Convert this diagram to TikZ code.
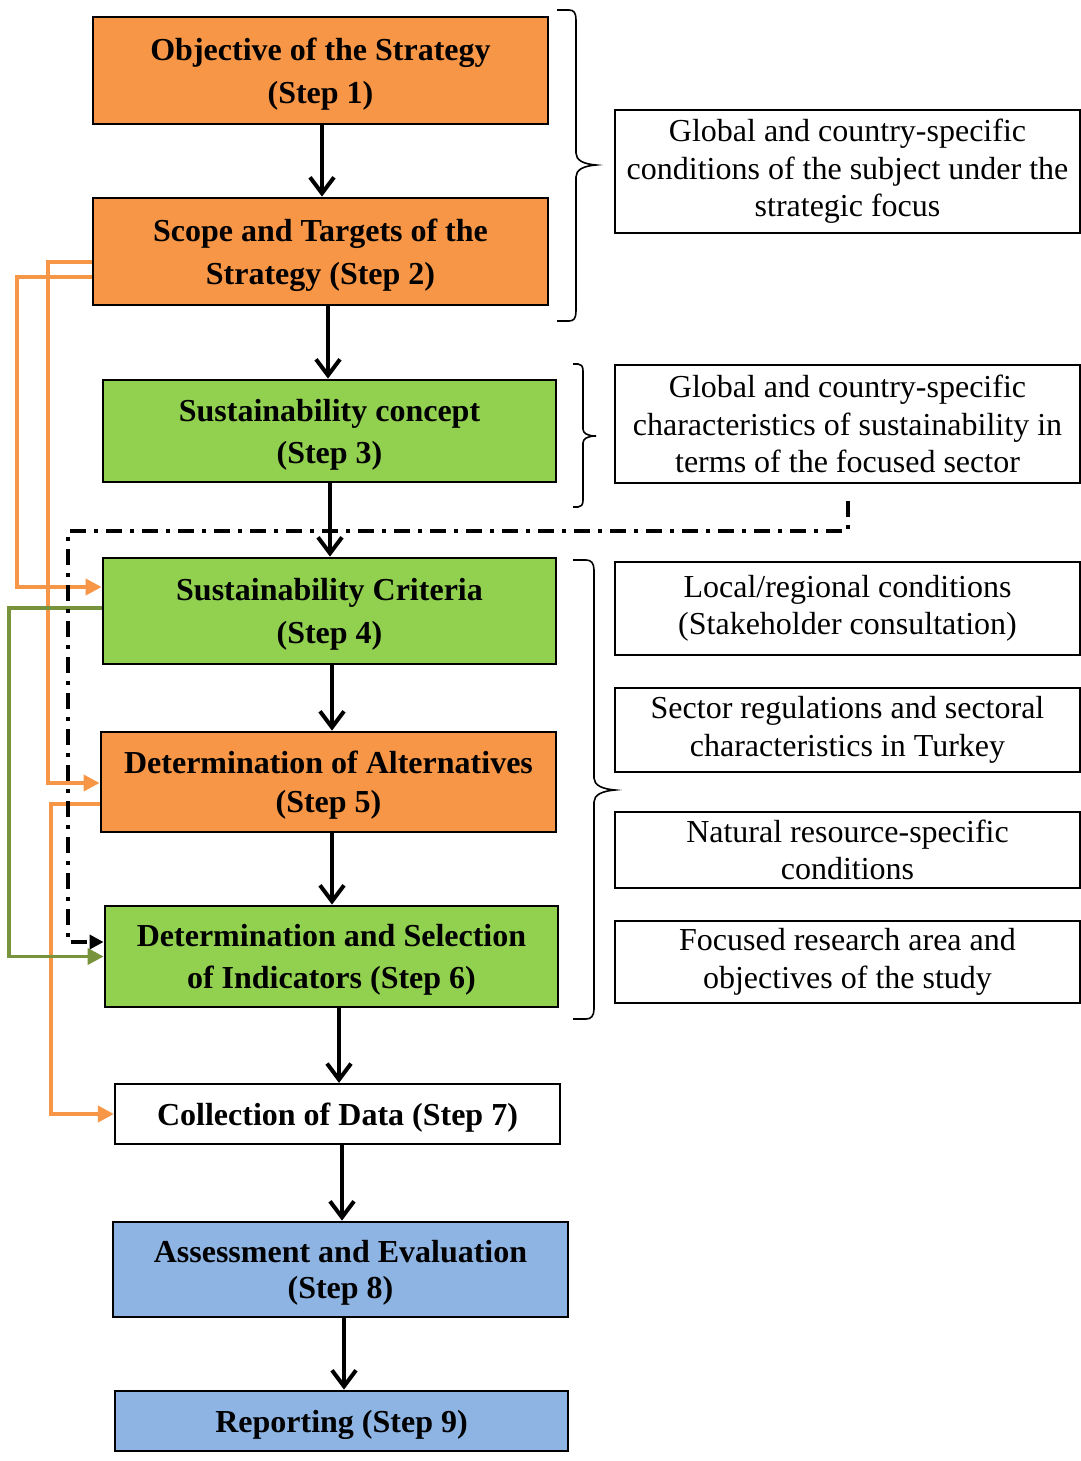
\documentclass[tikz,border=0pt]{standalone}
\usepackage{fontspec}
\setmainfont{Liberation Serif}
\usetikzlibrary{arrows.meta}
\definecolor{boxorange}{HTML}{F79646}
\definecolor{boxgreen}{HTML}{92D050}
\definecolor{boxblue}{HTML}{8EB4E3}
\definecolor{linkorange}{HTML}{F79646}
\definecolor{linkgreen}{HTML}{77933C}

\begin{document}
\begin{tikzpicture}[x=0.5pt,y=-0.5pt,
  stepbox/.style={draw=black, line width=1.4pt, align=center, inner sep=0pt, text depth=0pt,
    font=\fontsize{16}{21.5}\selectfont\bfseries},
  notebox/.style={draw=black, line width=0.9pt, align=center, inner sep=0pt,
    minimum width=232.5pt, font=\fontsize{16}{18.75}\selectfont},
  flow/.style={line width=2pt, -{Straight Barb[length=8pt,width=12pt]}},
  feed/.style={line width=1.9pt, -{Triangle[length=8pt,width=8pt]}},
  bracket/.style={line width=0.8pt},
  dashlink/.style={line width=2pt, dash pattern=on 8pt off 4pt on 2pt off 4pt,
    -{Triangle[length=7pt,width=7pt]}}
]
\useasboundingbox (0,0) rectangle (1081,1461);

% main sequence of steps
\node[stepbox, fill=boxorange, minimum width=227.5pt, minimum height=53.5pt] (s1) at (320.5,70.5)
  {Objective of the Strategy\\(Step 1)};
\node[stepbox, fill=boxorange, minimum width=227.5pt, minimum height=53.5pt] (s2) at (320.5,251.5)
  {Scope and Targets of the\\Strategy (Step 2)};
\node[stepbox, fill=boxgreen, minimum width=226.5pt, minimum height=51pt,
  font=\fontsize{16}{21}\selectfont\bfseries] (s3) at (329.5,431)
  {Sustainability concept\\(Step 3)};
\node[stepbox, fill=boxgreen, minimum width=226.5pt, minimum height=53pt] (s4) at (329.5,611)
  {Sustainability Criteria\\(Step 4)};
\node[stepbox, fill=boxorange, minimum width=227.5pt, minimum height=50pt,
  font=\fontsize{16}{19.5}\selectfont\bfseries] (s5) at (328.5,782)
  {Determination of Alternatives\\(Step 5)};
\node[stepbox, fill=boxgreen, minimum width=226.5pt, minimum height=50.5pt,
  font=\fontsize{16}{21}\selectfont\bfseries] (s6) at (331.5,956.5)
  {Determination and Selection\\of Indicators (Step 6)};
\node[stepbox, fill=white, line width=1.1pt, minimum width=222.5pt, minimum height=30pt] (s7) at (337.5,1114)
  {Collection of Data (Step 7)};
\node[stepbox, fill=boxblue, minimum width=227.5pt, minimum height=47.5pt,
  font=\fontsize{16}{18}\selectfont\bfseries] (s8) at (340.5,1269.5)
  {Assessment and Evaluation\\(Step 8)};
\node[stepbox, fill=boxblue, minimum width=226.5pt, minimum height=30pt] (s9) at (341.5,1421)
  {Reporting (Step 9)};

% explanatory notes on the right
\node[notebox, minimum height=61.5pt] (r1) at (847.5,171.5)
  {Global and country-specific\\conditions of the subject under the\\strategic focus};
\node[notebox, minimum height=59pt] (r2) at (847.5,424)
  {Global and country-specific\\characteristics of sustainability in\\terms of the focused sector};
\node[notebox, minimum height=46.5pt] (r3) at (847.5,608.5)
  {Local/regional conditions\\(Stakeholder consultation)};
\node[notebox, minimum height=42pt] (r4) at (847.5,730)
  {Sector regulations and sectoral\\characteristics in Turkey};
\node[notebox, minimum height=38pt] (r5) at (847.5,850)
  {Natural resource-specific\\conditions};
\node[notebox, minimum height=41pt] (r6) at (847.5,962)
  {Focused research area and\\objectives of the study};

% curly brackets grouping the steps
\draw[bracket] (557,10) -- (569,10) .. controls (574,10) and (576,13) .. (576,20)
  -- (576,153) .. controls (576,160) and (583,164) .. (596,165)
  .. controls (583,166) and (576,170) .. (576,177)
  -- (576,311) .. controls (576,318) and (574,321) .. (569,321) -- (557,321);
\draw[bracket] (573,364) -- (578,364) .. controls (581,364) and (583,366) .. (583,371)
  -- (583,429) .. controls (583,433) and (587,436) .. (596,436)
  .. controls (587,436) and (583,439) .. (583,443)
  -- (583,500) .. controls (583,505) and (581,507) .. (578,507) -- (573,507);
\draw[bracket] (573,560) -- (586,560) .. controls (591,560) and (594,563) .. (594,570)
  -- (594,778) .. controls (594,785) and (602,789) .. (615,790)
  .. controls (602,791) and (594,795) .. (594,802)
  -- (594,1009) .. controls (594,1016) and (591,1019) .. (586,1019) -- (573,1019);

% step-to-step arrows
\draw[flow] ([xshift=0.75pt]s1.south) -- ([xshift=0.75pt]s2.north);
\draw[flow] ([xshift=3.75pt]s2.south) -- ([xshift=-0.75pt]s3.north);
\draw[flow] ([xshift=0.25pt]s3.south) -- ([xshift=0.25pt]s4.north);
\draw[flow] ([xshift=1.25pt]s4.south) -- ([xshift=1.75pt]s5.north);
\draw[flow] ([xshift=1.75pt]s5.south) -- ([xshift=0.25pt]s6.north);
\draw[flow] ([xshift=3.75pt]s6.south) -- ([xshift=0.75pt]s7.north);
\draw[flow] ([xshift=2.25pt]s7.south) -- ([xshift=0.75pt]s8.north);
\draw[flow] ([xshift=1.75pt]s8.south) -- ([xshift=1.25pt]s9.north);

% feedback links on the left
\draw[feed, draw=linkorange] ([yshift=-12.75pt]s2.west) -- ++(-75,0) |- ([yshift=12pt]s4.west);
\draw[feed, draw=linkorange] ([yshift=-5.25pt]s2.west) -- ++(-44,0) |- ([yshift=-0.5pt]s5.west);
\draw[feed, draw=linkorange] ([yshift=-11pt]s5.west) -- ++(-49,0) |- (s7.west);
\draw[feed, draw=linkgreen] ([yshift=1.5pt]s4.west) -- ++(-93,0) |- (s6.west);

% sustainability characteristics feeding the indicator selection
\draw[dashlink] ([yshift=-8.5pt]r2.south) |- (68,531) |- ([yshift=7.25pt]s6.west);
\end{tikzpicture}
\end{document}
